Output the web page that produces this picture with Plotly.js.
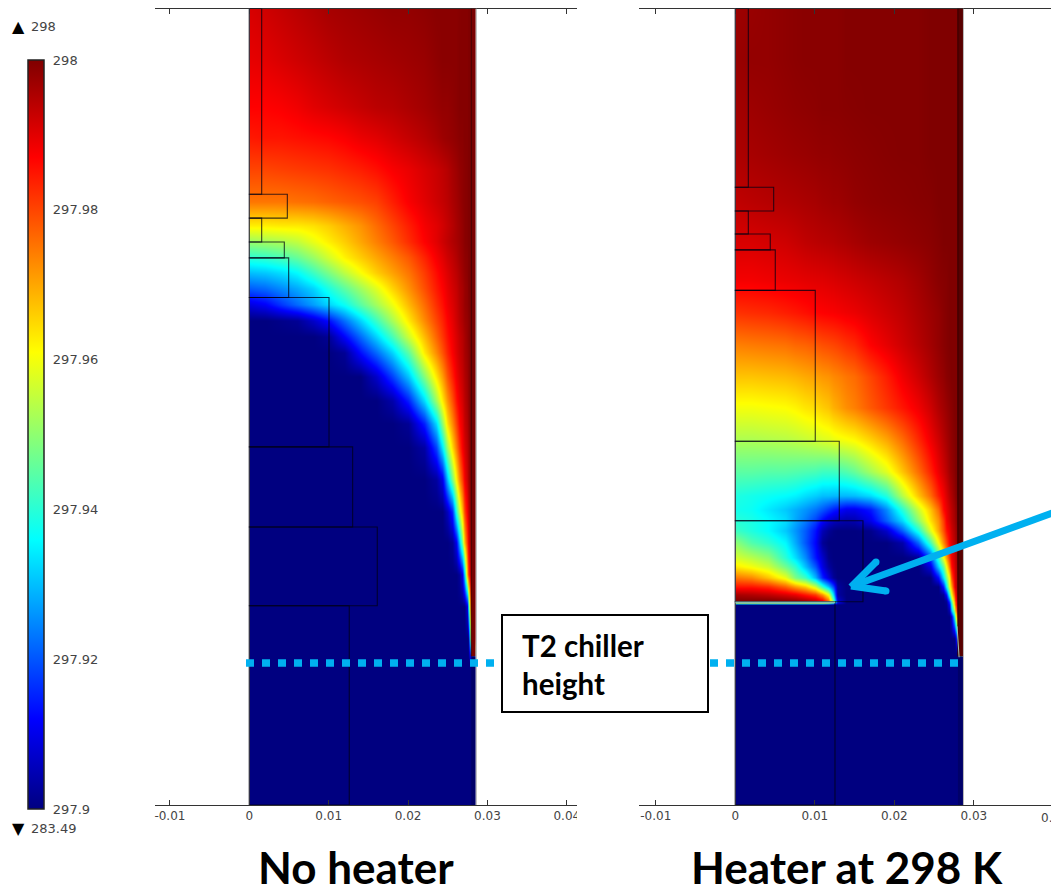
<!DOCTYPE html>
<html>
<head>
<meta charset="utf-8">
<script src="https://cdn.plot.ly/plotly-3.0.1.min.js"></script>
<style>html,body{margin:0;padding:0;background:#fff;overflow:hidden}</style>
</head>
<body>
<div id="chart" style="width:1051px;height:887px"></div>
<script>
const xNoHeater = [0,.002,.004,.006,.008,.010,.012,.014,.016,.018,.020,.022,.0235,.0243,.025,.0256,.0261,.0265,.0268,.0271,.0274,.0276,.0278,.0285];
const yNoHeater = [.1003,.094,.088,.084,.080,.076,.073,.071,.069,.067,.065,.063,.061,.059,.057,.054,.051,.048,.045,.041,.037,.033,.029,.025,.021,.018,0];
const zNoHeater = [
[91,92,93,94,95,96,96.5,97,97.5,98,98,98.5,99,99,99,99,99,99.3,99.5,99.5,99.5,100,100,100],
[89.5,90,91,92,93,94,95,95.5,96,96.5,97,97.5,98.5,99,99,99,99,99.5,99.5,99.5,99.5,100,100,100],
[87,87,87.5,88.5,90,91,92,93,94,94.5,95.5,96.5,97.5,98,98,98.5,99,99.5,99.5,99.5,99.5,100,100,100],
[84.5,85,85,85.5,86,86.5,87.5,89,90,91.5,93,94.5,96,97,97.5,98,98.5,99,99,99.5,99.5,100,100,100],
[80,80,80.5,81,81.5,82,83,84,85.5,87.5,89,91,92.5,93.5,94.5,96,97,98,98.5,99,99.5,100,100,100],
[75,75,75,75.5,76,77,78,79,80.5,84,87.5,90,92,93,94,95.5,96.5,97.5,98.5,99,99.5,100,100,100],
[62.5,62.5,63,63,64,66,69,72,76,80,84,88,90,91.5,93,94.5,96,97,98,99,99.5,100,100,100],
[51,52,53,55,59,62.5,66,70,74,78,82.5,87,90,92,93.5,95,96,97,98,99,99.5,100,100,100],
[40,41,43,46,51,56.5,62,66,70,74,78,83.5,88,90,92,93.5,95,96.5,97.5,98.5,99,100,100,100],
[30,31,33,36,42,48,54.5,60.5,66,70.5,75,81,86,88.5,90.5,92.5,94,95.5,97,98,99,100,100,100],
[20.5,22,25,28,32,38.5,45,51.5,58,65.3,72,79,84.5,87,89.5,91.5,93,95,96,97.5,98.5,100,100,100],
[9,11.5,17,22,27,32,37,44.7,52,59.5,68,76,82.5,85.5,88.5,90.5,92.5,94.5,96,97.5,98.5,99.5,100,100],
[0,0,1,2,7,13,22.5,32,42,52.5,63,73,80,83.5,87,89.5,92,94,95.5,97,98,99,100,100],
[0,0,0,0,0,2,12,22,32,43,56,68,77,81.5,85.5,88.5,91,93,94.5,96,98,99,100,100],
[0,0,0,0,0,0,2,13,22,32,45,63,73,78.5,83.5,87.5,90.5,92.5,94,96,97.5,98.5,100,100],
[0,0,0,0,0,0,0,0,7,18,30.5,49,63.5,71,78.5,84,88.5,91,93,95,97,98.5,100,100],
[0,0,0,0,0,0,0,0,0,4,15,33,52,63,72,79,85.5,89,91.5,94,96.5,98,100,100],
[0,0,0,0,0,0,0,0,0,0,2,15,33,50,64.5,73,80.5,86.5,89.5,93,95.5,97.5,100,100],
[0,0,0,0,0,0,0,0,0,0,0,3.5,18.5,34.5,52,65,74.5,82,88,91,94.5,96.5,100,100],
[0,0,0,0,0,0,0,0,0,0,0,0,3,10,30.5,48,62.5,73,81,88,93,96,99,100],
[0,0,0,0,0,0,0,0,0,0,0,0,0,0,6,16,41,56,68.5,80,89,93,98,100],
[0,0,0,0,0,0,0,0,0,0,0,0,0,0,0,2,11,30,49,67.5,83,90,96,100],
[0,0,0,0,0,0,0,0,0,0,0,0,0,0,0,0,0,2.5,11,32,72,82,92,100],
[0,0,0,0,0,0,0,0,0,0,0,0,0,0,0,0,0,0,0,0,10,38,72,100],
[0,0,0,0,0,0,0,0,0,0,0,0,0,0,0,0,0,0,0,0,0,3,50,100],
[0,0,0,0,0,0,0,0,0,0,0,0,0,0,0,0,0,0,0,0,0,0,0,0],
[0,0,0,0,0,0,0,0,0,0,0,0,0,0,0,0,0,0,0,0,0,0,0,0]
];

const xHeater = [0,.002,.0042,.0063,.0076,.0088,.0100,.0110,.0117,.0123,.0128,.0140,.015,.017,.019,.021,.023,.0245,.0255,.0261,.0265,.0269,.0272,.0275,.0277,.0279,.0281,.0286];
const yHeater = [.1003,.094,.088,.082,.076,.071,.066,.062,.058,.054,.050,.046,.042,.039,.0372,.0358,.0346,.033,.0312,.03,.0287,.0275,.0265,.0258,.0256,.0253,.0245,.0237,.021,.0191,.0183,0];
const zHeater = [
[97,97.5,98,98.5,98.8,99,99,99,99,99,99,99.5,99.5,99.5,99.5,99.5,99.5,100,100,100,100,100,100,100,100,100,100,100],
[97.5,98,98,98.5,98.8,99,99,99,99,99,99,99.5,99.5,99.5,99.5,99.5,99.5,100,100,100,100,100,100,100,100,100,100,100],
[96.5,97,97.5,98,98.3,98.5,98.7,99,99,99,99,99.2,99.3,99.5,99.5,99.5,99.5,100,100,100,100,100,100,100,100,100,100,100],
[95.5,96,96.5,97,97.3,97.5,97.8,98,98,98.2,98.3,98.5,98.7,99,99.3,99.5,99.5,100,100,100,100,100,100,100,100,100,100,100],
[93.5,94,94.5,95,95.3,95.7,96,96.5,96.7,97,97,97.5,98,98.5,98.8,99,99.3,99.5,100,100,100,100,100,100,100,100,100,100],
[91,91,91.5,92,92.7,93.5,94,94.3,94.5,94.7,95,95.5,96,97,97.5,98,98.5,99,99.5,100,100,100,100,100,100,100,100,100],
[88,88,88.5,89,89.3,89.7,90,90.2,90.5,90.7,91,91.5,92,93,94,95,96.5,98,99,99.3,99.5,100,100,100,100,100,100,100],
[82,82.5,83,84,84.7,85.5,86.5,87,87.3,87.5,87.8,88.5,89,90.5,92,93.5,95.5,97,98,99,99.5,100,100,100,100,100,100,100],
[74,74.5,75,75.5,76.5,77,78,79,79.5,80,80.5,82,83,87,89.5,92,94.5,96.5,98,99,99.5,100,100,100,100,100,100,100],
[67,67,67.5,68,68.7,69.7,70.5,71.5,72,73,73.5,75,76,80,84,88.5,92,95,97,98,99,99.5,100,100,100,100,100,100],
[60,60,60.5,61,62,63.5,64.5,66,67,69,70,72.5,74,78,81.5,85,88.5,92,95,96.5,97.5,98.5,99,100,100,100,100,100],
[53,53,53.5,54,54.7,55.5,56.5,57.5,58,59,59.5,60.5,61.5,65.5,70,76,83,88.5,92,94.5,96,97.5,98.5,99.5,100,100,100,100],
[45,45,44.5,44.5,44,43.5,43,42,42,42,42.5,44,46,52,58,67,76,83.5,89,92,94,96.5,97.5,99,100,100,100,100],
[39,38,37,36,35,33,31.5,30,30,29.5,29.5,29.5,30,33,39.5,54,67,76,84,88,91,94,95.5,98,99,100,100,100],
[38,37,34,31,28.5,26,23,20,17,14.5,13,10,10,14,25,40,56,67,76,86,89,92,94,96.5,98,99,100,100],
[40,38.5,36,33,28,23.5,18,12,8,6,5,4,4.5,10,21,32.5,50,64,72,81,88,91,93.5,96,97.5,99,100,100],
[42,39,36,31,26,20.5,13.5,5,2,0.5,0,0,0,1,7,21,39,58,70,79,85.5,89,92,95,96.5,98.5,100,100],
[50,44,40.5,35.5,28,20,12,2,0,0,0,0,0,0,0,4,22,43,61,73,80,87.5,90.5,94,96,98,100,100],
[57,54,50,40,33,25,14,7,1,0,0,0,0,0,0,0,2,19,42,60,71,82,88.5,92,94,97,100,100],
[63,60,56,47,40.5,30,20,9,3,0.5,0,0,0,0,0,0,0,9,32,46,61,75,86,91,93.5,96,100,100],
[75,73,67,59,48,42,29,15,8,2,0,0,0,0,0,0,0,0,13,34,49,62,79,89.5,92.5,95,100,100],
[85,85,83,77,71,66,56,41,30,18,3,0,0,0,0,0,0,0,0,15,36,59,70,88,92,95,100,100],
[96,95,93.5,91,89,85,81,72,60,32,3,0,0,0,0,0,0,0,0,2,14,42,61,79,88,94,100,100],
[100,100,100,99,98,96,93,88,75,45,8,0,0,0,0,0,0,0,0,0,3,22,48,72,84,92,100,100],
[100,100,100,100,100,99,97,93,85,60,15,0,0,0,0,0,0,0,0,0,2,18,44,70,82,91,100,100],
[0,0,0,0,0,0,0,0,0,0,0,0,0,0,0,0,0,0,0,0,1,12,38,66,80,90,100,100],
[0,0,0,0,0,0,0,0,0,0,0,0,0,0,0,0,0,0,0,0,0,5,30,52,70,85,100,100],
[0,0,0,0,0,0,0,0,0,0,0,0,0,0,0,0,0,0,0,0,0,0,8,36,55,75,100,100],
[0,0,0,0,0,0,0,0,0,0,0,0,0,0,0,0,0,0,0,0,0,0,0,0,5,25,80,100],
[0,0,0,0,0,0,0,0,0,0,0,0,0,0,0,0,0,0,0,0,0,0,0,0,0,0,40,100],
[0,0,0,0,0,0,0,0,0,0,0,0,0,0,0,0,0,0,0,0,0,0,0,0,0,0,0,0],
[0,0,0,0,0,0,0,0,0,0,0,0,0,0,0,0,0,0,0,0,0,0,0,0,0,0,0,0]
];

// Geometry outline of each panel (metres): outer radius, top and bottom of each section
const boxRNoHeater   = [.00156,.00479,.00156,.00441,.00496,.01004,.01302,.01612,.01259];
const boxTopNoHeater = [.1003,.0769,.0739,.0709,.0689,.0639,.0451,.0350,.0251];
const boxBotNoHeater = [.0769,.0739,.0709,.0689,.0639,.0451,.0350,.0251,0];
const boxRHeater   = [.00164,.00483,.00164,.0044,.00503,.01006,.01308,.01606,.01254];
const boxTopHeater = [.1003,.0778,.0748,.0719,.0699,.0648,.0458,.0358,.0256];
const boxBotHeater = [.0778,.0748,.0719,.0699,.0648,.0458,.0358,.0256,0];

const xTickVals = [-.01,0,.01,.02,.03,.04];
const xTickText = ['-0.01','0','0.01','0.02','0.03','0.04'];
const barTickVals = [0,20,40,60,80,100];
const barTickText = ['297.9','297.92','297.94','297.96','297.98','298'];

const W = 1051, H = 887;
const X = p => p / W, Y = p => 1 - p / H;
const BLUE = '#00B0F0';
const jet = [[0,'rgb(0,0,128)'],[.12,'rgb(0,0,255)'],[.36,'rgb(0,255,255)'],[.61,'rgb(255,255,0)'],[.87,'rgb(255,0,0)'],[1,'rgb(128,0,0)']];

// Extra edge columns keep the cell half-width from spilling past the domain edges
function trace(xs, ys, zs, xa, ya, scale){
  return {
    type:'heatmap', xaxis:xa, yaxis:ya, zsmooth:'best', hoverinfo:'skip',
    x: [xs[0], xs[0]+1e-6, ...xs.slice(1), xs[xs.length-1]+1e-6],
    y: ys.slice().reverse(),
    z: zs.slice().reverse().map(r => [r[0], ...r, r[r.length-1]]),
    zmin:0, zmax:100, colorscale:jet, showscale:scale,
    colorbar: scale ? {
      xref:'paper', yref:'paper', x:X(28), xanchor:'left', xpad:0, ypad:0,
      y:Y(809), yanchor:'bottom', len:749/H, lenmode:'fraction',
      thickness:16, thicknessmode:'pixels',
      outlinecolor:'#222', outlinewidth:1.5,
      tickmode:'array', tickvals:barTickVals, ticktext:barTickText,
      ticks:'outside', ticklen:6, tickcolor:'rgba(0,0,0,0)',
      tickfont:{family:'DejaVu Sans', size:13, color:'#444'}
    } : undefined
  };
}

const shapes = [];
function outline(r, top, bot, xr, yr){
  r.forEach((w,i) => shapes.push({type:'rect', xref:xr, yref:yr, x0:0, x1:w, y0:bot[i], y1:top[i],
    line:{color:'rgba(0,0,20,0.75)', width:1.1}, fillcolor:'rgba(0,0,0,0)'}));
}
// Container wall strips
shapes.push({type:'rect', xref:'x', yref:'y', x0:.02796, x1:.0285, y0:.0187, y1:.1003, line:{width:0}, fillcolor:'rgb(120,0,0)'});
shapes.push({type:'line', xref:'x', yref:'y', x0:.02796, x1:.02796, y0:.0187, y1:.1003, line:{color:'rgb(70,0,0)', width:1}});
shapes.push({type:'rect', xref:'x', yref:'y', x0:.02796, x1:.0285, y0:0, y1:.0187, line:{width:0}, fillcolor:'rgb(0,0,105)'});
shapes.push({type:'rect', xref:'x2', yref:'y2', x0:.028, x1:.02865, y0:.0187, y1:.1003, line:{width:0}, fillcolor:'rgb(88,0,0)'});
shapes.push({type:'line', xref:'x2', yref:'y2', x0:.028, x1:.028, y0:.0187, y1:.1003, line:{color:'rgb(50,0,0)', width:1}});
shapes.push({type:'rect', xref:'x2', yref:'y2', x0:.028, x1:.02865, y0:0, y1:.0187, line:{width:0}, fillcolor:'rgb(0,0,105)'});
// Light edges
[['x','y',-.00002,.0286],['x2','y2',-.00002,.0287]].forEach(a => {
  [a[2],a[3]].forEach(v => shapes.push({type:'line', xref:a[0], yref:a[1], x0:v, x1:v, y0:0, y1:.1003, line:{color:'#b5b5b5', width:1}}));
});
outline(boxRNoHeater, boxTopNoHeater, boxBotNoHeater, 'x', 'y');
outline(boxRHeater, boxTopHeater, boxBotHeater, 'x2', 'y2');
// Heater plate and chiller tip
shapes.push({type:'line', xref:'x2', yref:'y2', x0:0, x1:.01254, y0:.02552, y1:.02552, line:{color:'#86bdb0', width:1.6}});
shapes.push({type:'line', xref:'x2', yref:'y2', x0:.02815, x1:.0279, y0:.0186, y1:.0225, line:{color:'#9fc0b8', width:1}});
// Inner tick marks of the colour bar
barTickVals.slice(1,-1).forEach(v => {
  const py = 809 - v / 100 * 749;
  [[28,31],[41,44]].forEach(s => shapes.push({type:'line', xref:'paper', yref:'paper', x0:X(s[0]), x1:X(s[1]), y0:Y(py), y1:Y(py), line:{color:'#111', width:1}}));
});
// Clip of the last tick label of the left panel
shapes.push({type:'rect', xref:'paper', yref:'paper', x0:X(577), x1:X(600), y0:Y(830), y1:Y(808), line:{width:0}, fillcolor:'#fff'});
// Chiller-height dotted lines
shapes.push({type:'line', xref:'paper', yref:'paper', x0:X(246), x1:X(495), y0:Y(663), y1:Y(663), line:{color:BLUE, width:7.5, dash:'8px,8px'}});
shapes.push({type:'line', xref:'paper', yref:'paper', x0:X(710), x1:X(958), y0:Y(663), y1:Y(663), line:{color:BLUE, width:7.5, dash:'8px,8px'}});
// Call-out box
shapes.push({type:'rect', xref:'paper', yref:'paper', x0:X(502), x1:X(708), y0:Y(712), y1:Y(615), line:{color:'#000', width:2}, fillcolor:'#fff'});
// Arrow
shapes.push({type:'line', xref:'paper', yref:'paper', x0:X(1055), x1:X(855), y0:Y(512), y1:Y(585), line:{color:BLUE, width:7}});
shapes.push({type:'line', xref:'paper', yref:'paper', x0:X(876), x1:X(851), y0:Y(562), y1:Y(587), line:{color:BLUE, width:7}});
shapes.push({type:'line', xref:'paper', yref:'paper', x0:X(886), x1:X(851), y0:Y(591), y1:Y(586), line:{color:BLUE, width:7}});
[[876,562],[886,591]].forEach(c => shapes.push({type:'circle', xref:'paper', yref:'paper', x0:X(c[0]-3.5), x1:X(c[0]+3.5), y0:Y(c[1]+3.5), y1:Y(c[1]-3.5), line:{width:0}, fillcolor:BLUE}));

function note(text, x, y, size, color, family, bold, anchor){
  return {xref:'paper', yref:'paper', x:X(x), y:Y(y), text: bold ? '<b>'+text+'</b>' : text, showarrow:false,
    xanchor:anchor||'center', yanchor:'middle', font:{family:family, size:size, color:color}, borderpad:0};
}
const annotations = [
  note('▲', 11, 27, 16, '#000', 'DejaVu Sans', false, 'left'),
  note('298', 30, 27, 13, '#444', 'DejaVu Sans', false, 'left'),
  note('▼', 11, 828, 16, '#000', 'DejaVu Sans', false, 'left'),
  note('283.49', 30, 828, 13, '#444', 'DejaVu Sans', false, 'left'),
  note('T2 chiller', 521, 645, 29.5, '#000', 'Lato', true, 'left'),
  note('height', 521, 683, 29.5, '#000', 'Lato', true, 'left'),
  note('No heater', 356, 867, 44, '#000', 'Lato', true),
  note('Heater at 298 K', 846.5, 867, 44, '#000', 'Lato', true),
  note('0.', 1040, 818, 12, '#444', 'DejaVu Sans', false, 'left')
];

const xAxisBase = {
  showgrid:false, zeroline:false, showline:true, linecolor:'#333', linewidth:1, mirror:'ticks',
  ticks:'inside', ticklen:5, tickcolor:'#333', tickmode:'array', tickvals:xTickVals, ticktext:xTickText,
  tickfont:{family:'DejaVu Sans', size:12, color:'#444'}
};
const yAxisBase = {visible:false, range:[0,.1003], domain:[(H-805)/H,(H-8.5)/H], fixedrange:true};

const layout = {
  width:W, height:H, margin:{l:0,r:0,t:0,b:0}, paper_bgcolor:'#fff', plot_bgcolor:'#fff', showlegend:false,
  xaxis:Object.assign({}, xAxisBase, {domain:[X(155),X(577)], range:[-.01188,.04128], anchor:'y'}),
  yaxis:Object.assign({}, yAxisBase, {anchor:'x'}),
  xaxis2:Object.assign({}, xAxisBase, {domain:[X(639),1], range:[-.01211,.03971], anchor:'y2'}),
  yaxis2:Object.assign({}, yAxisBase, {anchor:'x2'}),
  shapes:shapes, annotations:annotations
};

Plotly.newPlot('chart', [
  trace(xNoHeater, yNoHeater, zNoHeater, 'x', 'y', true),
  trace(xHeater, yHeater, zHeater, 'x2', 'y2', false)
], layout, {displayModeBar:false, staticPlot:true});
</script>
</body>
</html>
